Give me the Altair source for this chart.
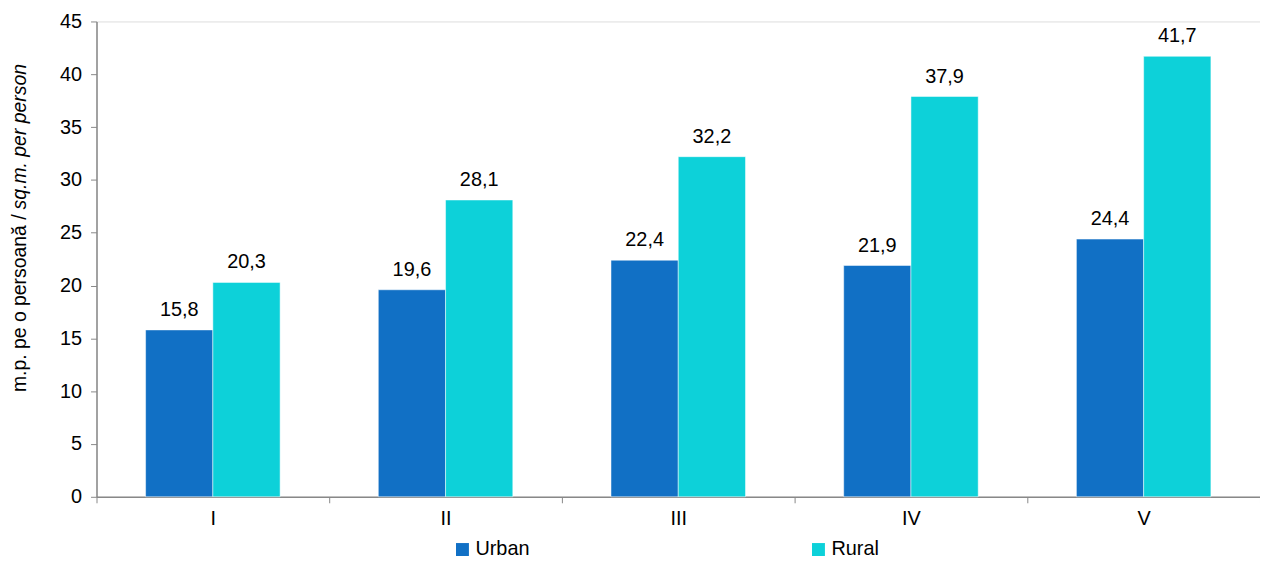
import altair as alt
import pandas as pd

categories = ["I", "II", "III", "IV", "V"]
urban = [15.8, 19.6, 22.4, 21.9, 24.4]
rural = [20.3, 28.1, 32.2, 37.9, 41.7]
series = ["Urban", "Rural"]
colors = ["#1170C5", "#0DD1D9"]
y_ticks = [0, 5, 10, 15, 20, 25, 30, 35, 40, 45]
title_ro = "m.p. pe o persoană /"
title_en = "sq.m. per person"

rows = []
for c, u, r in zip(categories, urban, rural):
    rows.append({"cat": c, "series": "Urban", "value": u, "label": f"{u:.1f}".replace(".", ",")})
    rows.append({"cat": c, "series": "Rural", "value": r, "label": f"{r:.1f}".replace(".", ",")})
df = pd.DataFrame(rows)

FONT = "Liberation Sans"
FS = 20

x = alt.X("cat:N", sort=categories, title=None,
          scale=alt.Scale(paddingInner=0, paddingOuter=0),
          axis=alt.Axis(labelAngle=0, tickBand="extent", labelFontSize=FS, labelFont=FONT,
                        labelColor="#000000", domainColor="#888888", tickColor="#888888",
                        tickSize=6, labelPadding=6, domainWidth=1.5))
y = alt.Y("value:Q", title=None,
          scale=alt.Scale(domain=[0, 45], nice=False),
          axis=alt.Axis(values=y_ticks, grid=False, labelFontSize=FS, labelFont=FONT,
                        labelColor="#000000", domainColor="#888888", tickColor="#888888",
                        tickSize=6, labelPadding=9, domainWidth=1.5))
xoff = alt.XOffset("series:N", sort=series,
                   scale=alt.Scale(paddingInner=0, paddingOuter=0.73))
color = alt.Color("series:N", sort=series,
                  scale=alt.Scale(domain=series, range=colors),
                  legend=alt.Legend(title=None, orient="none", direction="horizontal",
                                    columns=2, legendX=358, legendY=521,
                                    symbolType="square", symbolSize=169, symbolStrokeWidth=0,
                                    labelFontSize=FS, labelFont=FONT, labelColor="#000000",
                                    columnPadding=280, labelOffset=3))

base = alt.Chart(df)
bars = base.mark_bar(stroke="white", strokeWidth=0.5).encode(x=x, y=y, xOffset=xoff, color=color)
labels = base.mark_text(baseline="bottom", dy=-10, fontSize=FS, font=FONT, color="#000000").encode(
    x=x, y=y, xOffset=xoff, text="label:N")

t1 = alt.Chart(pd.DataFrame({"t": [title_ro]})).mark_text(
    angle=270, align="right", baseline="middle", fontSize=19.5, font=FONT, color="#000000"
).encode(x=alt.value(-77), y=alt.value(194), text="t:N")
t2 = alt.Chart(pd.DataFrame({"t": [title_en]})).mark_text(
    angle=270, align="left", baseline="middle", fontSize=19.5, font=FONT, color="#000000",
    fontStyle="italic"
).encode(x=alt.value(-77), y=alt.value(189), text="t:N")

chart = alt.layer(bars, labels, t1, t2).properties(
    width=1170, height=478,
    autosize=alt.AutoSizeParams(type="none"),
    padding={"left": 89, "top": 12, "right": 0, "bottom": 62},
).configure_view(stroke=None).configure(background="white")

chart.save("out.html", embed_options={"renderer": "svg", "actions": False})
